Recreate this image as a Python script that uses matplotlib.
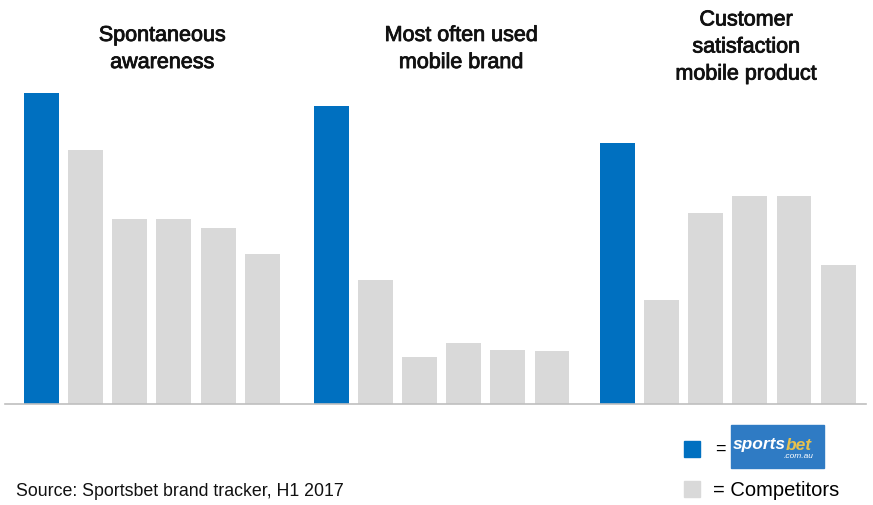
import matplotlib
matplotlib.use("Agg")
import matplotlib.pyplot as plt
import matplotlib.patheffects as pe
from matplotlib.patches import Rectangle

# values (arbitrary scale, 0-100)
groups = ["Spontaneous\nawareness", "Most often used\nmobile brand",
          "Customer\nsatisfaction\nmobile product"]
awareness = [88.9, 72.6, 52.9, 52.9, 50.3, 42.9]
most_used = [85.1, 35.4, 13.4, 17.4, 15.4, 15.1]
satisfaction = [74.6, 29.7, 54.6, 59.4, 59.4, 39.7]
series = [awareness, most_used, satisfaction]

BLUE = "#0070C0"
GREY = "#D9D9D9"
FONT = "Liberation Sans"

W, H = 873, 505
fig = plt.figure(figsize=(W / 100, H / 100), dpi=100)

# main bar axes: baseline at pixel 404
ax = fig.add_axes([5 / W, 101 / H, 861 / W, 350 / H])
group_start = [0, 6.56, 13.04]
for start, vals in zip(group_start, series):
    xs = [start + i for i in range(len(vals))]
    colors = [BLUE] + [GREY] * (len(vals) - 1)
    ax.bar(xs, vals, width=0.79, color=colors, zorder=2)

ax.set_xlim(-0.824, 18.67)
ax.set_ylim(0, 100)
for s in ["top", "left", "right"]:
    ax.spines[s].set_visible(False)
ax.spines["bottom"].set_color("#BFBFBF")
ax.spines["bottom"].set_linewidth(1.2)
ax.set_xticks([])
ax.set_yticks([])

# overlay in pixel coordinates for titles, legend and footnote
ov = fig.add_axes([0, 0, 1, 1])
ov.set_xlim(0, W)
ov.set_ylim(H, 0)
ov.axis("off")
ov.patch.set_alpha(0)

title_x = [162, 461, 746]
title_y = [49, 49, 47]
thick = [pe.withStroke(linewidth=0.6, foreground="#111111")]
for name, tx, ty in zip(groups, title_x, title_y):
    ov.text(tx, ty, name, ha="center", va="center", fontsize=15.5,
            family=FONT, linespacing=1.38, color="#111111",
            path_effects=thick)

# legend
ov.add_patch(Rectangle((684, 441), 16, 16, color=BLUE))
ov.text(715, 449, "=", ha="left", va="center", fontsize=13, family=FONT)
ov.add_patch(Rectangle((731, 425), 93, 43, color="#2F7BC4"))
ov.text(786, 445, "sports", ha="right", va="center", fontsize=12.5,
        family=FONT, fontweight="bold", style="italic", color="white")
ov.text(786, 445, "bet", ha="left", va="center", fontsize=12.5,
        family=FONT, fontweight="bold", style="italic", color="#E6C14E")
ov.text(814, 457, ".com.au", ha="right", va="center", fontsize=6,
        family=FONT, style="italic", color="white")

ov.add_patch(Rectangle((684, 481), 16, 16, color=GREY))
ov.text(713, 490, "= Competitors", ha="left", va="center", fontsize=14.5,
        family=FONT)

ov.text(16, 492, "Source: Sportsbet brand tracker, H1 2017", ha="left",
        va="center", fontsize=12.8, family=FONT, color="#111111")

fig.savefig("out.png", dpi=100)
